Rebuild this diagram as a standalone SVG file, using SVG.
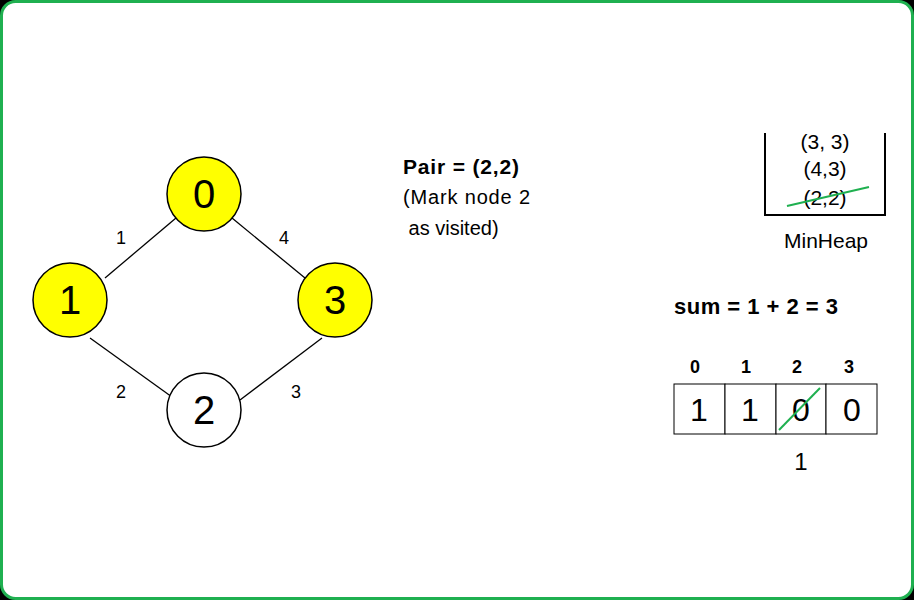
<svg xmlns="http://www.w3.org/2000/svg" width="914" height="600" viewBox="0 0 914 600">
<style>
text{font-family:"Liberation Sans",Arial,sans-serif;fill:#000}
.n circle{stroke:#000;stroke-width:1.5}
.n text{font-size:40px;text-anchor:middle}
.e line{stroke:#000;stroke-width:1.3}
.el{font-size:18px;text-anchor:middle}
.c{fill:#fff;stroke:#000;stroke-width:1}
.d{font-size:32px;text-anchor:middle}
.h{font-size:18px;text-anchor:middle;font-weight:bold}
.g{stroke:#1fb050;stroke-width:2}
.hp{font-size:21px;text-anchor:middle}
</style>
<rect width="914" height="600" fill="#000"/>
<rect x="1.5" y="1.5" width="911" height="597" rx="14" fill="#fff" stroke="#1fb050" stroke-width="3"/>
<g id="connectors" class="e">
<line x1="176" y1="218" x2="105" y2="278"/>
<line x1="232" y1="218" x2="305" y2="278"/>
<line x1="90" y1="338" x2="172" y2="397"/>
<line x1="322" y1="338" x2="240" y2="400"/>
</g>
<text class="el" x="121" y="244">1</text>
<text class="el" x="284" y="244">4</text>
<text class="el" x="121" y="398">2</text>
<text class="el" x="296" y="398">3</text>
<g id="node0" class="n"><circle cx="204" cy="194" r="37" fill="#ffff00"/><text x="204" y="208">0</text></g>
<g id="node1" class="n"><circle cx="70" cy="300" r="37" fill="#ffff00"/><text x="70" y="314">1</text></g>
<g id="node3" class="n"><circle cx="335" cy="300" r="37" fill="#ffff00"/><text x="335" y="314">3</text></g>
<g id="node2" class="n"><circle cx="204" cy="410" r="37" fill="#fff"/><text x="204" y="424">2</text></g>
<text x="403" y="174" font-size="21" font-weight="bold" textLength="116">Pair = (2,2)</text>
<text x="403" y="204" font-size="20" textLength="127">(Mark node 2</text>
<text x="403" y="235" font-size="20" xml:space="preserve"> as visited)</text>
<g id="heap">
<polyline points="765,133 765,215 885,215 885,133" fill="none" stroke="#000" stroke-width="2"/>
<text class="hp" x="825" y="149">(3, 3)</text>
<text class="hp" x="825" y="176">(4,3)</text>
<text class="hp" x="825" y="205">(2,2)</text>
<line class="g" x1="787" y1="206" x2="869" y2="187"/>
<text class="hp" x="826" y="248">MinHeap</text>
</g>
<text x="674" y="314" font-size="22" font-weight="bold" textLength="164">sum = 1 + 2 = 3</text>
<g id="array">
<text class="h" x="695" y="373">0</text><text class="h" x="746" y="373">1</text><text class="h" x="797" y="373">2</text><text class="h" x="849" y="373">3</text>
<rect class="c" x="674" y="384" width="51" height="50"/>
<rect class="c" x="725" y="384" width="51" height="50"/>
<rect class="c" x="776" y="384" width="50" height="50"/>
<rect class="c" x="826" y="384" width="51" height="50"/>
<text class="d" x="699" y="421">1</text><text class="d" x="750" y="421">1</text><text class="d" x="801" y="421">0</text><text class="d" x="852" y="421">0</text>
<line class="g" x1="779" y1="430" x2="820" y2="388"/>
<text x="801" y="470" font-size="24" text-anchor="middle">1</text>
</g>
</svg>
